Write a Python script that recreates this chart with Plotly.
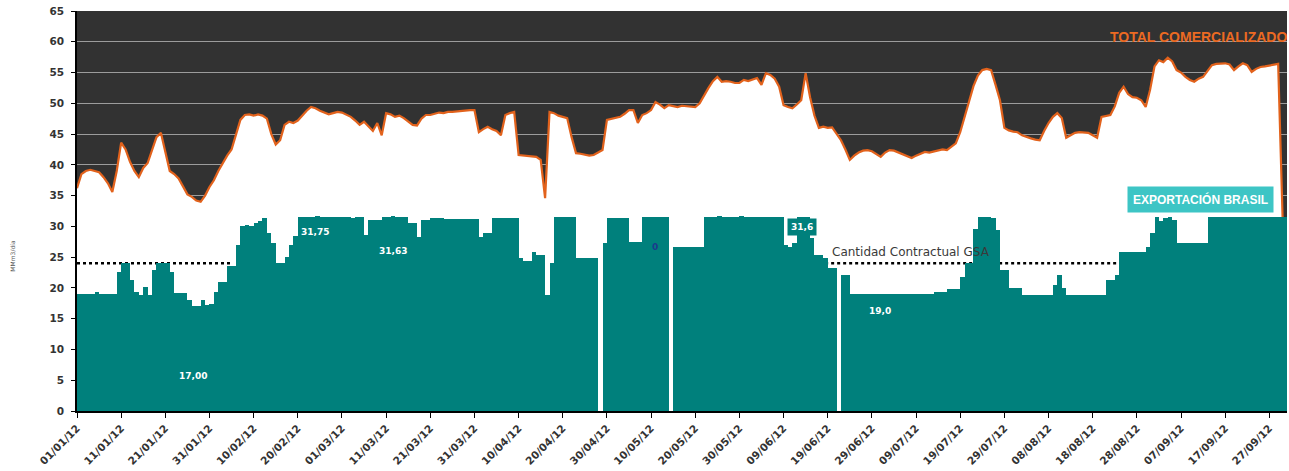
import pandas as pd
import plotly.graph_objects as go

# ---- data -----------------------------------------------------------------
START = "2012-01-01"
END = "2012-10-01"

# Daily total traded volume (MMm3/día), 01/01/12 .. 30/09/12
TOTAL_COMERCIALIZADO = [
    # enero
    36.2, 38.5, 39.0, 39.2, 39.0, 38.8, 38.0, 37.0, 35.6, 39.0,
    43.6, 42.5, 40.5, 39.0, 38.0, 39.5, 40.3, 42.5, 44.5, 45.2,
    42.0, 39.0, 38.5, 37.8, 36.5, 35.2, 34.8, 34.2, 34.0, 35.0, 36.4,
    # febrero
    37.5, 39.0, 40.3, 41.5, 42.5, 45.0, 47.3, 48.1, 48.2, 48.0,
    48.2, 48.0, 47.5, 45.0, 43.3, 44.0, 46.5, 47.0, 46.8, 47.2,
    48.0, 48.8, 49.4, 49.2, 48.8, 48.5, 48.2, 48.4, 48.6,
    # marzo
    48.5, 48.2, 47.8, 47.2, 46.5, 47.0, 46.2, 45.5, 46.8, 44.8,
    48.4, 48.2, 47.8, 48.0, 47.6, 47.0, 46.5, 46.4, 47.5, 48.1,
    48.1, 48.3, 48.5, 48.4, 48.6, 48.6, 48.7, 48.8, 48.8, 48.9, 48.9,
    # abril
    45.3, 45.8, 46.2, 45.8, 45.5, 44.8, 48.1, 48.4, 48.6, 41.6,
    41.5, 41.4, 41.3, 41.3, 40.8, 34.6, 48.6, 48.4, 48.0, 47.8,
    47.6, 44.5, 41.9, 41.8, 41.6, 41.5, 41.6, 42.0, 42.4, 47.3,
    # mayo
    47.5, 47.6, 47.8, 48.3, 48.9, 48.9, 46.8, 48.1, 48.4, 48.9,
    50.2, 49.8, 49.2, 49.7, 49.5, 49.4, 49.6, 49.5, 49.4, 49.4,
    50.0, 51.3, 52.5, 53.6, 54.3, 53.5, 53.6, 53.5, 53.3, 53.3, 53.8,
    # junio
    53.6, 53.8, 54.1, 53.0, 54.9, 54.6, 54.0, 52.7, 49.7, 49.4,
    49.2, 49.8, 50.5, 54.9, 51.0, 48.0, 46.0, 46.2, 46.0, 46.1,
    45.0, 44.0, 42.5, 40.8, 41.5, 42.0, 42.3, 42.4, 42.2, 41.8,
    # julio
    41.3, 42.0, 42.4, 42.3, 42.0, 41.6, 41.3, 41.1, 41.5, 41.8,
    42.1, 42.0, 42.2, 42.3, 42.5, 42.4, 43.0, 43.5, 45.3, 47.8,
    50.5, 52.8, 54.5, 55.4, 55.6, 55.4, 53.0, 50.5, 46.0, 45.6, 45.4,
    # agosto
    45.3, 44.8, 44.5, 44.3, 44.1, 44.0, 45.5, 46.8, 47.8, 48.4,
    47.6, 44.4, 44.8, 45.2, 45.3, 45.3, 45.2, 44.8, 44.4, 47.8,
    48.0, 48.1, 49.5, 51.7, 52.7, 51.5, 51.0, 50.9, 50.5, 49.4, 52.2,
    # septiembre
    56.0, 57.0, 56.7, 57.4, 56.8, 55.4, 55.0, 54.3, 53.8, 53.5,
    54.0, 54.3, 55.3, 56.2, 56.4, 56.5, 56.5, 56.3, 55.4, 56.0,
    56.5, 56.2, 55.1, 55.6, 55.9, 56.0, 56.1, 56.2, 56.4, 31.5,
]

# Daily export volume to Brazil (MMm3/día)
EXPORTACION_BRASIL = [
    # enero
    19.0, 19.0, 19.0, 19.0, 19.3, 19.0, 19.0, 19.0, 19.0, 22.6,
    24.0, 24.0, 21.3, 19.4, 18.9, 20.2, 18.9, 22.9, 24.0, 24.0,
    24.0, 22.6, 19.1, 19.1, 19.1, 18.0, 17.0, 17.0, 18.0, 17.3, 17.4,
    # febrero
    19.4, 21.0, 21.0, 23.5, 23.5, 27.0, 30.0, 30.2, 30.0, 30.5,
    30.8, 31.3, 29.0, 27.3, 24.0, 24.0, 25.0, 27.0, 28.5, 31.5,
    31.5, 31.6, 31.6, 31.75, 31.6, 31.5, 31.5, 31.5, 31.5,
    # marzo
    31.5, 31.5, 31.4, 31.5, 31.5, 28.6, 31.0, 31.0, 31.0, 31.6,
    31.6, 31.63, 31.6, 31.6, 31.6, 30.5, 30.5, 28.3, 31.0, 31.0,
    31.3, 31.3, 31.3, 31.2, 31.2, 31.2, 31.2, 31.2, 31.2, 31.2, 31.2,
    # abril
    28.3, 28.9, 28.9, 31.3, 31.3, 31.3, 31.3, 31.3, 31.3, 24.8,
    24.3, 24.3, 25.9, 25.4, 25.4, 18.9, 24.0, 31.6, 31.6, 31.6,
    31.6, 31.6, 24.9, 24.9, 24.9, 24.9, 24.9, 0.0, 27.3, 31.3,
    # mayo
    31.3, 31.3, 31.3, 31.3, 27.5, 27.5, 27.5, 31.5, 31.5, 31.5,
    31.5, 31.5, 31.5, 0.0, 26.7, 26.7, 26.7, 26.7, 26.7, 26.7,
    26.7, 31.5, 31.6, 31.6, 31.7, 31.6, 31.6, 31.5, 31.6, 31.7, 31.6,
    # junio
    31.6, 31.6, 31.6, 31.6, 31.6, 31.6, 31.6, 31.6, 27.0, 26.7,
    27.3, 31.6, 31.6, 31.6, 28.1, 25.4, 25.4, 24.8, 23.2, 23.2,
    0.0, 22.1, 22.1, 19.0, 19.0, 19.0, 19.0, 19.0, 19.0, 19.0,
    # julio
    19.0, 19.0, 19.0, 19.0, 19.0, 19.0, 19.0, 19.0, 19.0, 19.0,
    19.0, 19.0, 19.4, 19.4, 19.4, 19.9, 19.9, 19.9, 21.8, 24.0,
    24.0, 29.5, 31.5, 31.5, 31.6, 31.4, 29.4, 22.9, 22.9, 20.0, 20.0,
    # agosto
    20.0, 18.9, 18.9, 18.9, 18.9, 18.9, 18.9, 18.9, 20.5, 22.1,
    20.0, 18.9, 18.9, 18.9, 18.9, 18.9, 18.9, 18.9, 18.9, 18.9,
    21.3, 21.3, 22.1, 25.9, 25.9, 25.9, 25.9, 25.9, 25.9, 26.7, 29.0,
    # septiembre
    31.6, 30.8, 31.4, 31.6, 31.0, 27.3, 27.3, 27.3, 27.3, 27.3,
    27.3, 27.3, 31.5, 31.5, 31.5, 31.5, 31.5, 31.5, 31.5, 31.5,
    31.5, 31.5, 31.5, 31.5, 31.5, 31.5, 31.5, 31.5, 31.5, 31.5,
]

# Contract quantity (GSA) and the periods where it is shown
CONTRACT_LEVEL = 24.0
CONTRACT_PERIODS = [
    ("2012-01-01 00:00", "2012-02-05 00:00"),
    ("2012-06-18 10:00", "2012-08-23 12:00"),
]

X_TICK_LABELS = [
    "01/01/12", "11/01/12", "21/01/12", "31/01/12", "10/02/12", "20/02/12",
    "01/03/12", "11/03/12", "21/03/12", "31/03/12", "10/04/12", "20/04/12",
    "30/04/12", "10/05/12", "20/05/12", "30/05/12", "09/06/12", "19/06/12",
    "29/06/12", "09/07/12", "19/07/12", "29/07/12", "08/08/12", "18/08/12",
    "28/08/12", "07/09/12", "17/09/12", "27/09/12",
]
Y_TICKS = [0, 5, 10, 15, 20, 25, 30, 35, 40, 45, 50, 55, 60, 65]

# value labels on the export bars:
# (day index, decimals, label x, label y, text colour, box colour)
DATA_LABELS = [
    (26, 2, "2012-01-27 07:00", 5.7, "white", None),
    (54, 2, "2012-02-23 21:30", 29.1, "white", None),
    (71, 2, "2012-03-12 14:30", 26.0, "white", None),
    (134, 0, "2012-05-10 21:30", 26.6, "#1b3a8c", None),
    (164, 1, "2012-06-13 05:00", 29.9, "white", "#00807c"),
    (181, 1, "2012-06-30 19:00", 16.25, "white", None),
]

# ---- styling --------------------------------------------------------------
TEAL = "#00807c"
ORANGE = "#e2621c"
PLOT_BG = "#323232"
GRID = "#9c9c9c"
AXIS_FONT = dict(family="DejaVu Sans", size=10.5, color="#333333", weight="bold")

days = pd.date_range(START, periods=len(TOTAL_COMERCIALIZADO), freq="D")
tick_dates = [pd.to_datetime(t, format="%d/%m/%y") for t in X_TICK_LABELS]
DAY_MS = 24 * 60 * 60 * 1000

fig = go.Figure()

# total traded: white area under an orange line
fig.add_trace(go.Scatter(
    x=days, y=TOTAL_COMERCIALIZADO, mode="lines",
    line=dict(color=ORANGE, width=2.2),
    fill="tozeroy", fillcolor="white",
    name="TOTAL COMERCIALIZADO", showlegend=False,
))

# contract quantity, dotted
for start, end in CONTRACT_PERIODS:
    fig.add_trace(go.Scatter(
        x=[start, end], y=[CONTRACT_LEVEL, CONTRACT_LEVEL], mode="lines",
        line=dict(color="black", width=2.5, dash="dot"),
        showlegend=False, hoverinfo="skip",
    ))

# exports to Brazil: one full-width column per day, on an overlay axis so it sits on top
fig.add_trace(go.Bar(
    x=days, y=EXPORTACION_BRASIL, width=DAY_MS, offset=0,
    marker=dict(color=TEAL, line=dict(width=0)),
    yaxis="y2", name="EXPORTACIÓN BRASIL", showlegend=False,
))

annotations = []
for idx, dec, lx, ly, col, box in DATA_LABELS:
    txt = f"{EXPORTACION_BRASIL[idx]:.{dec}f}".replace(".", ",")
    ann = dict(
        x=lx, y=ly, xref="x", yref="y", text=txt, showarrow=False,
        font=dict(family="DejaVu Sans", size=9, color=col, weight="bold"),
    )
    if box:
        ann.update(bgcolor=box, borderpad=3)
    annotations.append(ann)

annotations += [
    dict(x=1.0, xref="paper", y=60.8, yref="y", xanchor="right",
         text="TOTAL COMERCIALIZADO", showarrow=False, xshift=2,
         font=dict(family="Liberation Sans", size=14, color="#ec6a22", weight="bold")),
    dict(x="2012-08-25 19:00", xref="x", y=34.45, yref="y", xanchor="left",
         text="EXPORTACIÓN BRASIL", showarrow=False, bgcolor="#3dc5c5",
         borderpad=5,
         font=dict(family="Liberation Sans", size=12, color="white", weight="bold")),
    dict(x="2012-06-19 10:00", xref="x", y=25.9, yref="y", xanchor="left",
         text="Cantidad Contractual GSA", showarrow=False,
         font=dict(family="DejaVu Sans", size=12, color="#3a3a3a")),
    dict(x=-0.058, xref="paper", y=25.3, yref="y", textangle=-90,
         text="MMm3/día", showarrow=False,
         font=dict(family="DejaVu Sans", size=6, color="#555555")),
]

fig.update_layout(
    width=1289, height=471,
    margin=dict(l=77, r=2, t=11, b=60),
    paper_bgcolor="white", plot_bgcolor=PLOT_BG,
    bargap=0, showlegend=False,
    xaxis=dict(
        type="date", range=[START, END],
        tickvals=tick_dates, ticktext=X_TICK_LABELS, tickangle=-45,
        ticks="outside", ticklen=5, tickcolor="black", tickwidth=1.2,
        showline=True, linecolor="black", linewidth=2,
        showgrid=False, zeroline=False, tickfont=AXIS_FONT,
    ),
    yaxis=dict(
        range=[0, 65], tickvals=Y_TICKS, ticks="outside", ticklen=4,
        tickcolor="black", showline=True, linecolor="black", linewidth=1.5,
        showgrid=True, gridcolor=GRID, gridwidth=1, zeroline=False,
        tickfont=AXIS_FONT, ticklabelstandoff=5,
    ),
    yaxis2=dict(overlaying="y", range=[0, 65], visible=False, showgrid=False),
    annotations=annotations,
)

fig.write_html("out.html")
